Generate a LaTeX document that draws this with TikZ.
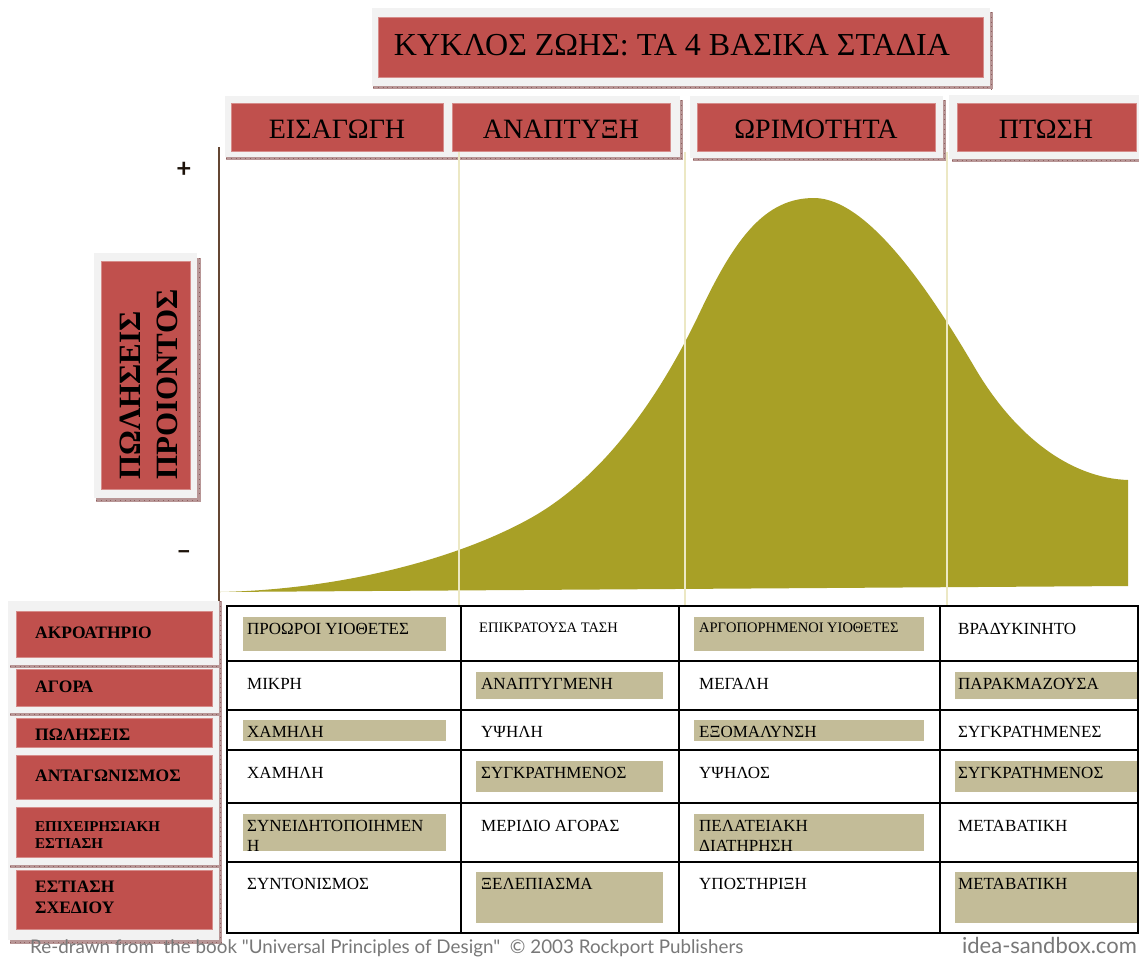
\documentclass[tikz,border=0pt]{standalone}
\usepackage{fontspec}
\setmainfont{Liberation Serif}
\newfontfamily\footfont{Lato}
\definecolor{redbox}{RGB}{192,80,77}
\definecolor{rededge}{RGB}{214,140,138}
\definecolor{frame}{RGB}{242,242,242}
\definecolor{hatchc}{RGB}{184,150,150}
\definecolor{hatchd}{RGB}{140,95,95}
\definecolor{tan}{RGB}{195,188,152}
\definecolor{olive}{RGB}{168,160,38}
\definecolor{paleline}{RGB}{236,232,196}
\definecolor{axisc}{RGB}{100,70,50}
\definecolor{footc}{RGB}{120,120,120}
\tikzset{
  framebox/.style={fill=frame, draw=none},
  redbx/.style={fill=redbox, draw=rededge, line width=0.8pt},
  hatchbx/.style={fill=hatchc, draw=none},
  tanbx/.style={fill=tan, draw=none},
  celltxt/.style={anchor=base west, inner sep=0pt, font=\fontsize{17}{20}\selectfont},
  smalltxt/.style={anchor=base west, inner sep=0pt, font=\fontsize{14.5}{17}\selectfont},
  rowtxt/.style={anchor=base west, inner sep=0pt, font=\bfseries\fontsize{17.5}{21}\selectfont},
  stagetxt/.style={inner sep=0pt, font=\fontsize{28}{32}\selectfont},
  tline/.style={draw=black, line width=2pt},
  signtxt/.style={font=\footfont\bfseries\fontsize{26}{28}\selectfont, text=black!85!brown},
}
\newcommand{\hatchstrip}[4]{%
  \fill[hatchc] (#1,#2) rectangle (#3,#4);
  \draw[hatchd, line width=0.6pt, dash pattern=on 0.8pt off 4pt] (#1,{(#2+#4)/2}) -- (#3,{(#2+#4)/2});
}
\newcommand{\vhatchstrip}[4]{%
  \fill[hatchc] (#1,#2) rectangle (#3,#4);
  \draw[hatchd, line width=0.6pt, dash pattern=on 0.8pt off 4pt] ({(#1+#3)/2},#2) -- ({(#1+#3)/2},#4);
}
\begin{document}
\begin{tikzpicture}[x=1pt,y=-1pt]
\useasboundingbox[fill=white] (0,0) rectangle (1139,956);

% ---------- title ----------
\fill[framebox] (372,8) rectangle (990,86);
\hatchstrip{373}{86}{993}{89}
\vhatchstrip{990}{12}{993}{89}
\draw[redbx] (378,17) rectangle (983,77);
\node[inner sep=0pt, font=\fontsize{32}{36}\selectfont] (title) at (672,45) {ΚΥΚΛΟΣ ΖΩΗΣ: ΤΑ 4 ΒΑΣΙΚΑ ΣΤΑΔΙΑ};

% ---------- stage headers ----------
\fill[framebox] (225,96) rectangle (680,157);
\hatchstrip{226}{157}{683}{160}
\vhatchstrip{680}{100}{683}{160}
\fill[framebox] (690,96) rectangle (943,158);
\hatchstrip{693}{158}{946}{161}
\vhatchstrip{943}{100}{946}{161}
\fill[framebox] (949,95) rectangle (1139,159);
\hatchstrip{952}{159}{1139}{162}

\draw[redbx] (231,103) rectangle (443,151);
\draw[redbx] (452,103) rectangle (670,151);
\draw[redbx] (697,103) rectangle (935,151);
\draw[redbx] (957,103) rectangle (1136,151);
\node[stagetxt] (s1) at (337,129) {ΕΙΣΑΓΩΓΗ};
\node[stagetxt] (s2) at (561,129) {ΑΝΑΠΤΥΞΗ};
\node[stagetxt] (s3) at (816,129) {ΩΡΙΜΟΤΗΤΑ};
\node[stagetxt] (s4) at (1046,129) {ΠΤΩΣΗ};

% ---------- y label ----------
\fill[framebox] (94,253) rectangle (197,498);
\vhatchstrip{197}{258}{201}{502}
\hatchstrip{96}{498}{201}{502}
\draw[redbx] (101,261) rectangle (190,489);
\node[rotate=90, anchor=base west, inner sep=0pt, font=\bfseries\fontsize{31}{36}\selectfont] (yl1) at (140,480) {ΠΩΛΗΣΕΙΣ};
\node[rotate=90, anchor=base west, inner sep=0pt, font=\bfseries\fontsize{31}{36}\selectfont] (yl2) at (177,480) {ΠΡΟΙΟΝΤΟΣ};

% ---------- axis ----------
\coordinate (atop) at (219,147);
\coordinate (abot) at (219,601);
\draw[axisc, line width=2.5pt] (atop) -- (abot);
\node[signtxt] (plus) at (184,170) {+};
\node[signtxt] (minus) at (184,555) {–};

% ---------- curve ----------
\fill[olive] (219,592)
  .. controls (330,590) and (449,563) .. (529,519)
  .. controls (609,475) and (665,386) .. (700,312)
  .. controls (735,238) and (765,198) .. (814,198)
  .. controls (870,198) and (935,300) .. (975,368)
  .. controls (1015,436) and (1070,478) .. (1128,480)
  -- (1128,586) -- (219,592) -- cycle;

% pale stage separators
\coordinate (v1t) at (459,152); \coordinate (v1b) at (459,606);
\coordinate (v2t) at (685,152); \coordinate (v2b) at (685,606);
\coordinate (v3t) at (947,152); \coordinate (v3b) at (947,606);
\draw[paleline, line width=2.5pt] (v1t) -- (v1b);
\draw[paleline, line width=2.5pt] (v2t) -- (v2b);
\draw[paleline, line width=2.5pt] (v3t) -- (v3b);

% ---------- row labels ----------
\fill[framebox] (8,601) rectangle (219,940);
\vhatchstrip{219}{601}{222}{944}
\hatchstrip{10}{940}{222}{944}
\hatchstrip{10}{665}{219}{668}
\hatchstrip{10}{713}{219}{716}
\hatchstrip{10}{865}{219}{868}
\draw[redbx] (16,611) rectangle (212,657);
\draw[redbx] (16,669) rectangle (212,706);
\draw[redbx] (16,718) rectangle (212,747);
\draw[redbx] (16,755) rectangle (212,799);
\draw[redbx] (16,807) rectangle (212,857);
\draw[redbx] (16,870) rectangle (212,929);
\node[rowtxt] (r1) at (35,638) {ΑΚΡΟΑΤΗΡΙΟ};
\node[rowtxt] (r2) at (35,692) {ΑΓΟΡΑ};
\node[rowtxt] (r3) at (35,740) {ΠΩΛΗΣΕΙΣ};
\node[rowtxt] (r4) at (35,781) {ΑΝΤΑΓΩΝΙΣΜΟΣ};
\node[rowtxt, font=\bfseries\fontsize{15}{17}\selectfont] (r5a) at (35,831) {ΕΠΙΧΕΙΡΗΣΙΑΚΗ};
\node[rowtxt, font=\bfseries\fontsize{15}{17}\selectfont] (r5b) at (35,848) {ΕΣΤΙΑΣΗ};
\node[rowtxt] (r6a) at (35,892) {ΕΣΤΙΑΣΗ};
\node[rowtxt] (r6b) at (35,913) {ΣΧΕΔΙΟΥ};

% ---------- table highlights ----------
\fill[tanbx] (243,617) rectangle (446,651);
\fill[tanbx] (694,617) rectangle (924,651);
\fill[tanbx] (476,672) rectangle (663,699);
\fill[tanbx] (955,672) rectangle (1137,699);
\fill[tanbx] (243,720) rectangle (446,741);
\fill[tanbx] (694,720) rectangle (924,741);
\fill[tanbx] (476,761) rectangle (663,792);
\fill[tanbx] (955,761) rectangle (1137,792);
\fill[tanbx] (243,814) rectangle (446,851);
\fill[tanbx] (694,814) rectangle (924,851);
\fill[tanbx] (476,872) rectangle (663,923);
\fill[tanbx] (955,872) rectangle (1137,923);

% ---------- table grid ----------
\foreach \yy in {606,661,710,750,803,862,933} { \draw[tline] (227,\yy) -- (1139,\yy); }
\foreach \xx in {227,461,679,940,1138} { \draw[tline] (\xx,605) -- (\xx,934); }

% ---------- table text ----------
\node[celltxt] (c11) at (247,634) {ΠΡΟΩΡΟΙ ΥΙΟΘΕΤΕΣ};
\node[smalltxt] (c12) at (479,632) {ΕΠΙΚΡΑΤΟΥΣΑ ΤΑΣΗ};
\node[smalltxt] (c13) at (699,632) {ΑΡΓΟΠΟΡΗΜΕΝΟΙ ΥΙΟΘΕΤΕΣ};
\node[celltxt] (c14) at (958,634) {ΒΡΑΔΥΚΙΝΗΤΟ};

\node[celltxt] (c21) at (247,689) {ΜΙΚΡΗ};
\node[celltxt] (c22) at (481,689) {ΑΝΑΠΤΥΓΜΕΝΗ};
\node[celltxt] (c23) at (699,689) {ΜΕΓΑΛΗ};
\node[celltxt] (c24) at (958,689) {ΠΑΡΑΚΜΑΖΟΥΣΑ};

\node[celltxt] (c31) at (247,737) {ΧΑΜΗΛΗ};
\node[celltxt] (c32) at (481,737) {ΥΨΗΛΗ};
\node[celltxt] (c33) at (699,737) {ΕΞΟΜΑΛΥΝΣΗ};
\node[celltxt] (c34) at (958,737) {ΣΥΓΚΡΑΤΗΜΕΝΕΣ};

\node[celltxt] (c41) at (247,778) {ΧΑΜΗΛΗ};
\node[celltxt] (c42) at (481,778) {ΣΥΓΚΡΑΤΗΜΕΝΟΣ};
\node[celltxt] (c43) at (699,778) {ΥΨΗΛΟΣ};
\node[celltxt] (c44) at (958,778) {ΣΥΓΚΡΑΤΗΜΕΝΟΣ};

\node[celltxt] (c51a) at (247,831) {ΣΥΝΕΙΔΗΤΟΠΟΙΗΜΕΝ};
\node[celltxt] (c51b) at (247,851) {Η};
\node[celltxt] (c52) at (481,831) {ΜΕΡΙΔΙΟ ΑΓΟΡΑΣ};
\node[celltxt] (c53a) at (699,831) {ΠΕΛΑΤΕΙΑΚΗ};
\node[celltxt] (c53b) at (699,851) {ΔΙΑΤΗΡΗΣΗ};
\node[celltxt] (c54) at (958,831) {ΜΕΤΑΒΑΤΙΚΗ};

\node[celltxt] (c61) at (247,889) {ΣΥΝΤΟΝΙΣΜΟΣ};
\node[celltxt] (c62) at (481,889) {ΞΕΛΕΠΙΑΣΜΑ};
\node[celltxt] (c63) at (699,889) {ΥΠΟΣΤΗΡΙΞΗ};
\node[celltxt] (c64) at (958,889) {ΜΕΤΑΒΑΤΙΚΗ};

% ---------- footer ----------
\node[anchor=base west, inner sep=0pt, text=footc, font=\footfont\fontsize{18.8}{21}\selectfont] (foot) at (30,953) {Re-drawn from\ \ the book "Universal Principles of Design"\ \ © 2003 Rockport Publishers};
\node[anchor=base east, inner sep=0pt, text=footc, font=\footfont\fontsize{22}{24}\selectfont] (site) at (1137,953) {idea-sandbox.com};
\end{tikzpicture}
\end{document}
